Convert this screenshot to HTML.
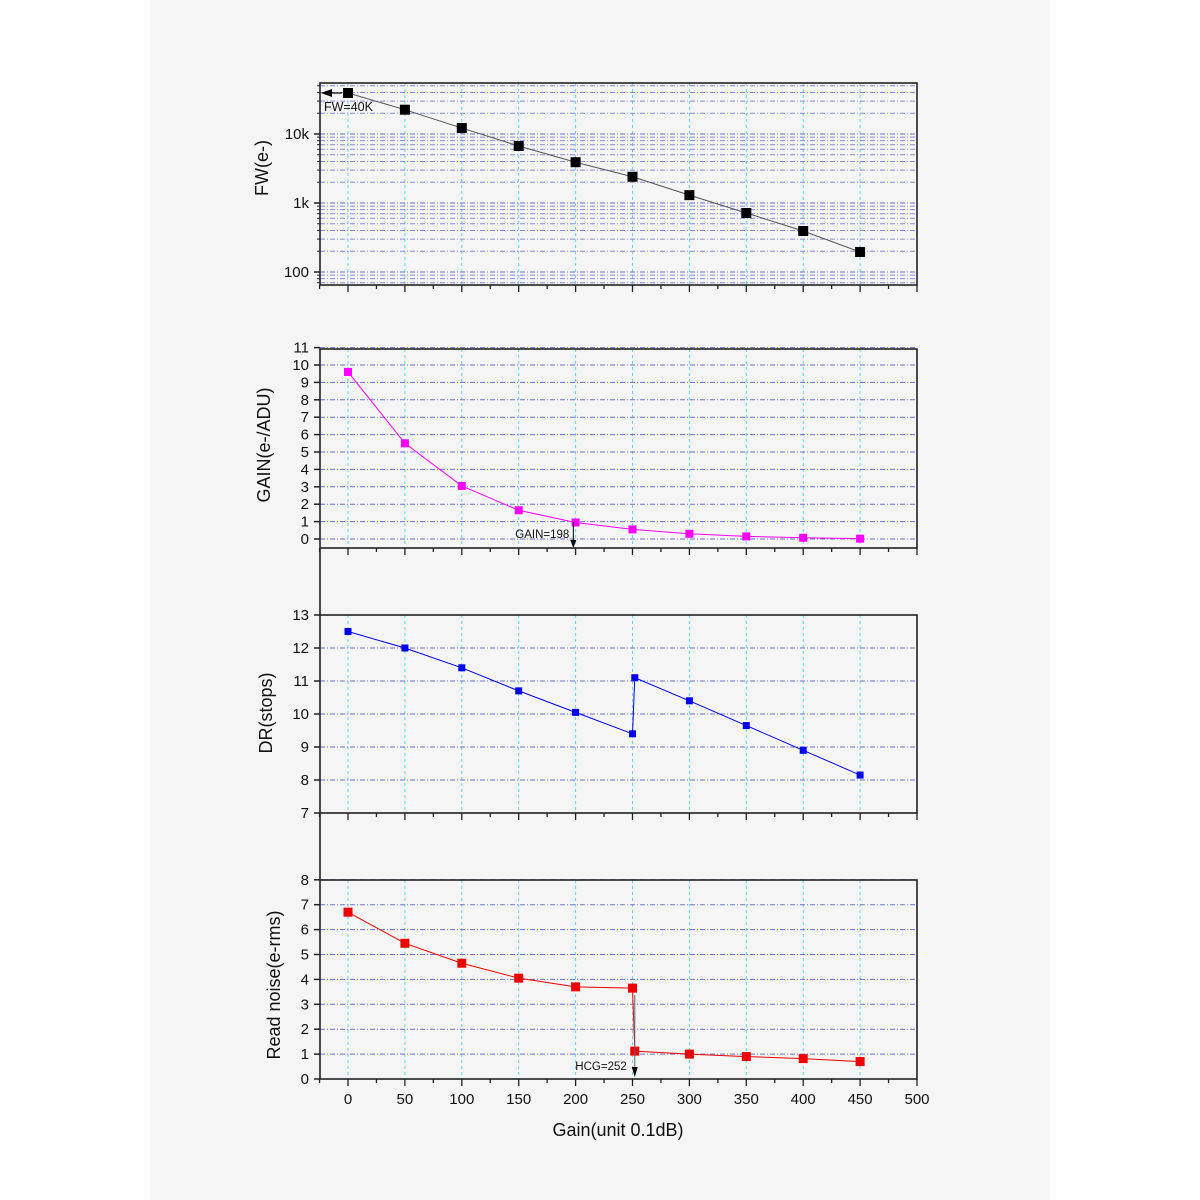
<!DOCTYPE html>
<html><head><meta charset="utf-8"><style>
html,body{margin:0;padding:0;background:#fff}
#wrap{position:absolute;left:150px;top:0;width:900px;height:1200px;background:#f5f5f5}
svg{position:absolute;left:0;top:0}
text{font-family:"Liberation Sans",sans-serif;fill:#111}
</style></head><body>
<div id="wrap"></div>
<svg id="chart" width="1200" height="1200"></svg>
<script>
const gains=[0,50,100,150,200,250,300,350,400,450];
const fwValues=[39300,22500,12200,6700,3900,2400,1300,716,393,195];
const gainValues=[9.6,5.5,3.05,1.65,0.95,0.55,0.3,0.15,0.07,0.02];
const drX=[0,50,100,150,200,250,252,300,350,400,450];
const drValues=[12.5,12.0,11.4,10.7,10.05,9.4,11.1,10.4,9.65,8.9,8.15];
const rnX=[0,50,100,150,200,250,252,300,350,400,450];
const rnValues=[6.7,5.45,4.65,4.05,3.7,3.65,1.12,1.0,0.9,0.82,0.7];
const xTicks=[0,50,100,150,200,250,300,350,400,450,500];
const gainTicks=[0,1,2,3,4,5,6,7,8,9,10,11];
const drTicks=[7,8,9,10,11,12,13];
const rnTicks=[0,1,2,3,4,5,6,7,8];
const fwTickLabels=["100","1k","10k"];

const svg=document.getElementById('chart');
const NS='http://www.w3.org/2000/svg';
function mk(tag,attrs,parent){const e=document.createElementNS(NS,tag);for(const k in attrs)e.setAttribute(k,attrs[k]);(parent||svg).appendChild(e);return e;}
const X0=320,X1=917;
const xs=v=>348+(v)*569/500;

function panel(name,top,bot,yfun,ticks,labels,minor){
  const g=mk('g',{});
  
  
  gains.forEach(v=>{const l=mk('line',{x1:xs(v),x2:xs(v),y1:top,y2:bot,stroke:'#5fd8e8','stroke-width':1,'stroke-dasharray':'3,3'},g);
    });
  (minor||[]).forEach(v=>{const y=yfun(v);if(y<top||y>bot)return;mk('line',{x1:X0,x2:X1,y1:y,y2:y,stroke:'#8a8ad8','stroke-width':1,'stroke-dasharray':'5,2,1,2'},g);});
  ticks.forEach((v,i)=>{const y=yfun(v);
    const l=mk('line',{x1:X0,x2:X1,y1:y,y2:y,stroke:'#7070d0','stroke-width':1,'stroke-dasharray':'5,2,1,2'},g);
    
    mk('line',{x1:X0-6,x2:X0,y1:y,y2:y,stroke:'#222','stroke-width':1.5},g);
    const t=mk('text',{x:X0-11,y:y+5,'text-anchor':'end','font-size':15},g);t.textContent=labels[i];
    });
  mk('rect',{x:X0,y:top,width:X1-X0,height:bot-top,fill:'none',stroke:'#222','stroke-width':1.6},g);
  for(let v=-25;v<=500;v+=25){const x=xs(v);const major=v%50===0;
    mk('line',{x1:x,x2:x,y1:bot,y2:bot+(major?7:4),stroke:'#222','stroke-width':1.3},g);}
  return g;
}
function series(name,xv,yv,yfun,color,size){
  const g=mk('g',{});
  
  const pts=xv.map((x,i)=>xs(x)+','+yfun(yv[i])).join(' ');
  const pl=mk('polyline',{points:pts,fill:'none',stroke:color==='#000'?'#555':color,'stroke-width':1},g);
  
  xv.forEach((x,i)=>{const r=mk('rect',{x:xs(x)-size/2,y:yfun(yv[i])-size/2,width:size,height:size,fill:color},g);
    });
}
function ytitle(txt,x,y,name){const t=mk('text',{x:x,y:y,'font-size':18,'text-anchor':'middle',transform:`rotate(-90 ${x} ${y})`});t.textContent=txt;
  }

const yFW=v=>272-(Math.log10(v)-2)*69;
const fwMinor=[];[10,100,1000,10000].forEach(d=>{for(let m=2;m<=9;m++)fwMinor.push(d*m);});
panel('fw',83,285,yFW,[100,1000,10000],fwTickLabels,fwMinor);
fwMinor.forEach(v=>{const y=yFW(v);if(y>83&&y<285)mk('line',{x1:X0-3,x2:X0,y1:y,y2:y,stroke:'#222'});});
series('fw',gains,fwValues,yFW,'#000',10);
ytitle('FW(e-)',268,168,'fw-y-axis-title');
mk('line',{x1:342,x2:330,y1:yFW(fwValues[0]),y2:yFW(fwValues[0]),stroke:'#000','stroke-width':1.2});
mk('polygon',{points:`${X0+1},${yFW(fwValues[0])} ${X0+12},${yFW(fwValues[0])-4} ${X0+12},${yFW(fwValues[0])+4}`,fill:'#000'});
{const t=mk('text',{x:324,y:111,'font-size':12.5});t.textContent='FW=40K';}

const yG=v=>539-v*17.4;
panel('gain',349,548,yG,gainTicks,gainTicks.map(String));
series('gain',gains,gainValues,yG,'#ff00ff',8);
ytitle('GAIN(e-/ADU)',270,445,'gain-y-axis-title');
{const x=xs(198);mk('line',{x1:x,x2:x,y1:522,y2:541,stroke:'#000'});mk('polygon',{points:`${x-3},540 ${x+3},540 ${x},548`,fill:'#000'});
const t=mk('text',{x:x-4,y:538,'font-size':11.5,'text-anchor':'end'});t.textContent='GAIN=198';}
mk('line',{x1:X0,x2:X0,y1:548,y2:615,stroke:'#222','stroke-width':1.6});

const yD=v=>813-(v-7)*33;
panel('dr',615,813,yD,drTicks,drTicks.map(String));
series('dr',drX,drValues,yD,'#0000ee',7);
ytitle('DR(stops)',272,713,'dr-y-axis-title');
mk('line',{x1:X0,x2:X0,y1:813,y2:880,stroke:'#222','stroke-width':1.6});

const yR=v=>1079-v*24.9;
panel('read-noise',880,1079,yR,rnTicks,rnTicks.map(String));
series('read-noise',rnX,rnValues,yR,'#ee0000',9);
ytitle('Read noise(e-rms)',280,985,'read-noise-y-axis-title');
{const x=xs(252);mk('line',{x1:x,x2:x,y1:995,y2:1068,stroke:'#666'});mk('polygon',{points:`${x-3},1067 ${x+3},1067 ${x},1077`,fill:'#000'});
const t=mk('text',{x:x-8,y:1070,'font-size':11.5,'text-anchor':'end'});t.textContent='HCG=252';}

xTicks.forEach(v=>{const t=mk('text',{x:xs(v),y:1104,'font-size':15,'text-anchor':'middle'});t.textContent=String(v);
  });
{const t=mk('text',{x:618,y:1136,'font-size':18,'text-anchor':'middle'});t.textContent='Gain(unit 0.1dB)';}
</script>
</body></html>
